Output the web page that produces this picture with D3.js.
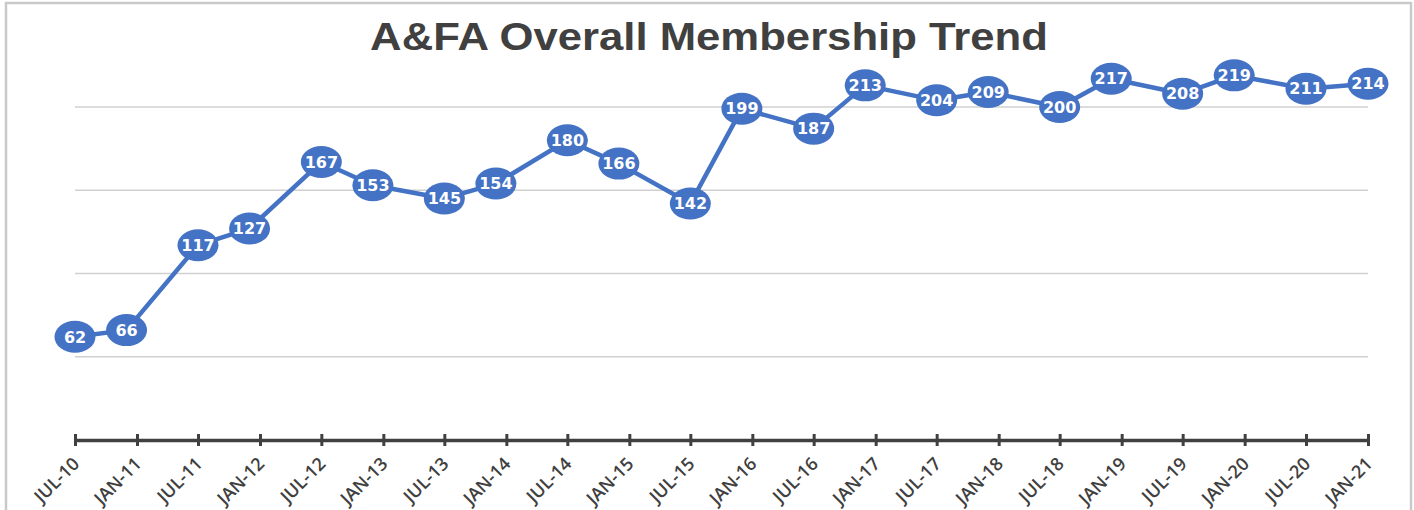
<!DOCTYPE html>
<html lang="en">
<head>
    <meta charset="UTF-8">
    <title>A&amp;FA Overall Membership Trend</title>
</head>

<style>

body {
    margin: 0;
    background: #fff;
}

.grid line {
    stroke: #d0d0d0;
    stroke-width: 1.5;
}

.bubble-label {
    font-family: 'DejaVu Sans', Verdana, sans-serif;
    font-weight: bold;
    font-size: 16px;
    fill: #fff;
}

.x-label {
    font-family: 'Open Sans', sans-serif;
    font-weight: 600;
    font-size: 18px;
    fill: #404040;
}

</style>

<body>
<svg height="510" width="1414"></svg>

<script src="https://d3js.org/d3.v7.min.js"></script>

<script>

    // data points (month of each count)
    var pointDates = ["2010-07", "2010-12", "2011-07", "2011-12", "2012-07", "2012-12",
        "2013-07", "2013-12", "2014-07", "2014-12", "2015-07", "2015-12", "2016-07",
        "2016-12", "2017-07", "2017-12", "2018-07", "2018-12", "2019-07", "2019-12",
        "2020-07", "2021-01"];
    var members = [62, 66, 117, 127, 167, 153, 145, 154, 180, 166, 142, 199, 187,
        213, 204, 209, 200, 217, 208, 219, 211, 214];

    // axis ticks
    var tickDates = ["2010-07", "2011-01", "2011-07", "2012-01", "2012-07", "2013-01",
        "2013-07", "2014-01", "2014-07", "2015-01", "2015-07", "2016-01", "2016-07",
        "2017-01", "2017-07", "2018-01", "2018-07", "2019-01", "2019-07", "2020-01",
        "2020-07", "2021-01"];
    var tickLabels = ["JUL-10", "JAN-11", "JUL-11", "JAN-12", "JUL-12", "JAN-13",
        "JUL-13", "JAN-14", "JUL-14", "JAN-15", "JUL-15", "JAN-16", "JUL-16",
        "JAN-17", "JUL-17", "JAN-18", "JUL-18", "JAN-19", "JUL-19", "JAN-20",
        "JUL-20", "JAN-21"];
    var gridValues = [50, 100, 150, 200];

    var translate = function(left, top) {
        return "translate(" + left + "," + top + ")";
    };

    var parseMonth = d3.timeParse("%Y-%m");
    var data = members.map(function(v, i) {
        return {date: parseMonth(pointDates[i]), value: v};
    });
    var ticks = tickDates.map(parseMonth);

    var svg = d3.select("svg");

    // outer frame
    svg.append("rect")
        .attr("x", 6).attr("y", 3)
        .attr("width", 1405).attr("height", 530)
        .attr("fill", "none")
        .attr("stroke", "#c9c9c9")
        .attr("stroke-width", 2.5);

    var x = d3.scaleTime()
        .domain([ticks[0], ticks[ticks.length - 1]])
        .range([75, 1368]);

    var y = d3.scaleLinear()
        .domain([0, 200])
        .range([440, 107]);

    // gridlines
    svg.append("g")
        .attr("class", "grid")
        .selectAll("line")
        .data(gridValues)
        .enter()
        .append("line")
        .attr("x1", x.range()[0])
        .attr("x2", x.range()[1])
        .attr("y1", function(d) { return y(d); })
        .attr("y2", function(d) { return y(d); });

    // x axis
    var xAxis = d3.axisBottom(x)
        .tickValues(ticks)
        .tickFormat(function(d, i) { return tickLabels[i]; })
        .tickSizeInner(12)
        .tickSizeOuter(0)
        .tickPadding(0);

    var axisG = svg.append("g")
        .attr("transform", translate(0, y(0)))
        .call(xAxis);

    axisG.select(".domain")
        .attr("stroke", "#404040")
        .attr("stroke-width", 3.5);

    axisG.selectAll(".tick line")
        .attr("y1", -6)
        .attr("y2", 6)
        .attr("stroke", "#404040")
        .attr("stroke-width", 3);

    axisG.selectAll(".tick text")
        .attr("class", "x-label")
        .attr("text-anchor", "end")
        .attr("y", 0)
        .attr("dy", 0)
        .attr("transform", "translate(5,25) rotate(-45)");

    // line
    var line = d3.line()
        .x(function(d) { return x(d.date); })
        .y(function(d) { return y(d.value); });

    svg.append("path")
        .datum(data)
        .attr("d", line)
        .attr("fill", "none")
        .attr("stroke", "#4472c4")
        .attr("stroke-width", 4.5)
        .attr("stroke-linejoin", "round");

    // bubbles
    var bubbles = svg.selectAll(".bubble")
        .data(data)
        .enter()
        .append("g")
        .attr("class", "bubble")
        .attr("transform", function(d) { return translate(x(d.date), y(d.value)); });

    bubbles.append("ellipse")
        .attr("rx", 20.5)
        .attr("ry", 16)
        .attr("fill", "#4472c4");

    bubbles.append("text")
        .attr("class", "bubble-label")
        .attr("text-anchor", "middle")
        .attr("dy", "0.36em")
        .text(function(d) { return d.value; });

    // title
    svg.append("text")
        .attr("transform", translate(709, 50) + " scale(1.12,1)")
        .attr("text-anchor", "middle")
        .style("font-family", "'Liberation Sans', Arial, sans-serif")
        .style("font-weight", "bold")
        .style("font-size", "39px")
        .style("fill", "#404040")
        .text("A&FA Overall Membership Trend");

</script>
</body>
</html>
